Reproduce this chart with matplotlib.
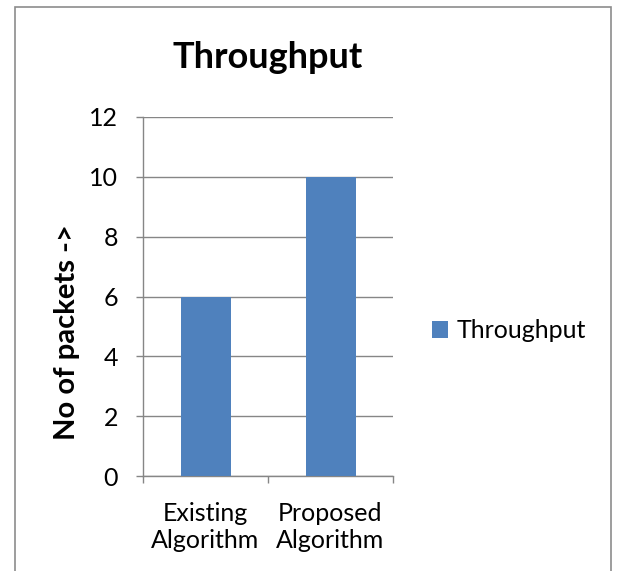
import matplotlib.pyplot as plt
from matplotlib.patches import Rectangle

categories = ["Existing\nAlgorithm", "Proposed\nAlgorithm"]
throughput = [6, 10]
yticks = [0, 2, 4, 6, 8, 10, 12]

plt.rcParams['font.family'] = ['Lato', 'DejaVu Sans']

W, H = 618, 571
fig = plt.figure(figsize=(W / 100, H / 100), dpi=100)

# outer chart frame
fig.patches.append(Rectangle((15 / W, -0.05), 596 / W, 1.05 - 7 / H,
                             transform=fig.transFigure, fill=False,
                             edgecolor="#8c8c8c", linewidth=1.2))

ax = fig.add_axes([143 / W, 1 - 476 / H, 250 / W, 359 / H])
x = range(len(categories))
ax.bar(x, throughput, width=0.4, color="#4F81BD", zorder=3, label="Throughput")

ax.set_xlim(-0.5, len(categories) - 0.5)
ax.set_ylim(0, 12)
ax.set_yticks(yticks)
ax.grid(axis="y", color="#868686", linewidth=1.0, zorder=0)
for s in ("top", "right"):
    ax.spines[s].set_visible(False)
for s in ("left", "bottom"):
    ax.spines[s].set_color("#868686")
    ax.spines[s].set_linewidth(1.0)

ax.tick_params(axis="y", length=5, width=1.0, color="#868686", pad=13,
               labelsize=18)
ax.set_xticks(list(x))
ax.set_xticklabels(categories, fontsize=18, linespacing=1.2)
ax.set_xticks([i - 0.5 for i in range(len(categories) + 1)], minor=True)
ax.tick_params(axis="x", which="major", length=0, pad=19)
ax.tick_params(axis="x", which="minor", length=5, width=1.0, color="#868686")

fig.text(67 / W, 1 - 332 / H, "No of packets ->", rotation=90, fontsize=21,
         fontweight="bold", ha="center", va="center")
fig.text(268 / W, 1 - 57 / H, "Throughput", fontsize=26, fontweight="bold",
         ha="center", va="center")

ax.legend(loc="center left", bbox_to_anchor=(409 / W, 1 - 331 / H),
          bbox_transform=fig.transFigure, frameon=False, fontsize=18,
          handlelength=0.65, handleheight=0.65, handletextpad=0.35)

fig.savefig("out.png", dpi=100)
